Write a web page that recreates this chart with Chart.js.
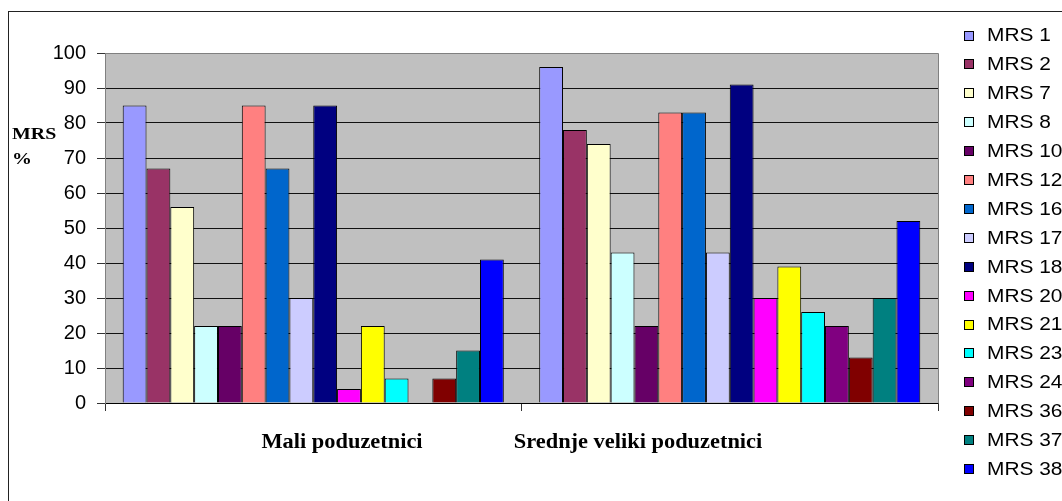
<!DOCTYPE html>
<html>
<head>
<meta charset="utf-8">
<script src="https://cdn.jsdelivr.net/npm/chart.js@4"></script>
<style>
  html, body { margin: 0; padding: 0; background: #fff; overflow: hidden; }
</style>
</head>
<body>
<canvas id="mrs-chart" width="1062" height="501"></canvas>
<script>
const categories = ['Mali poduzetnici', 'Srednje veliki poduzetnici'];
const seriesNames = ['MRS 1', 'MRS 2', 'MRS 7', 'MRS 8', 'MRS 10', 'MRS 12', 'MRS 16', 'MRS 17',
  'MRS 18', 'MRS 20', 'MRS 21', 'MRS 23', 'MRS 24', 'MRS 36', 'MRS 37', 'MRS 38'];
// [Mali, Srednje veliki]
const mrs1 = [85, 96];
const mrs2 = [67, 78];
const mrs7 = [56, 74];
const mrs8 = [22, 43];
const mrs10 = [22, 22];
const mrs12 = [85, 83];
const mrs16 = [67, 83];
const mrs17 = [30, 43];
const mrs18 = [85, 91];
const mrs20 = [4, 30];
const mrs21 = [22, 39];
const mrs23 = [7, 26];
const mrs24 = [0, 22];
const mrs36 = [7, 13];
const mrs37 = [15, 30];
const mrs38 = [41, 52];
const yTicks = [0, 10, 20, 30, 40, 50, 60, 70, 80, 90, 100];

const seriesValues = [mrs1, mrs2, mrs7, mrs8, mrs10, mrs12, mrs16, mrs17,
  mrs18, mrs20, mrs21, mrs23, mrs24, mrs36, mrs37, mrs38];
const colors = ['#9999FF', '#993366', '#FFFFCC', '#CCFFFF', '#660066', '#FF8080', '#0066CC', '#CCCCFF',
  '#000080', '#FF00FF', '#FFFF00', '#00FFFF', '#800080', '#800000', '#008080', '#0000FF'];

const datasets = seriesNames.map((name, i) => ({
  label: name,
  data: seriesValues[i],
  backgroundColor: colors[i],
  borderColor: '#000',
  borderWidth: 1,
  categoryPercentage: 0.915,
  barPercentage: 1,
}));

// text in the original is a bit wider than the font, so stretch it sideways
function wideText(ctx, text, x, y, sx) {
  ctx.save();
  ctx.translate(x, y);
  ctx.scale(sx, 1);
  ctx.fillText(text, 0, 0);
  ctx.restore();
}

// grey plot area, frame, legend and axis captions
const decorations = {
  id: 'decorations',
  beforeDraw(chart) {
    const { ctx, chartArea: a } = chart;
    ctx.save();
    ctx.fillStyle = '#C0C0C0';
    ctx.fillRect(a.left, a.top, a.right - a.left, a.bottom - a.top);
    ctx.strokeStyle = '#222';
    ctx.lineWidth = 1;
    ctx.strokeRect(8.5, 11.5, 1200, 700);
    ctx.restore();
  },
  beforeDatasetsDraw(chart) {
    const { ctx, chartArea: a } = chart;
    ctx.save();
    ctx.strokeStyle = '#808080';
    ctx.lineWidth = 1;
    ctx.beginPath();
    ctx.moveTo(Math.round(a.left) + 0.5, Math.round(a.top) + 0.5);
    ctx.lineTo(Math.round(a.right) + 0.5, Math.round(a.top) + 0.5);
    ctx.lineTo(Math.round(a.right) + 0.5, Math.round(a.bottom) + 0.5);
    ctx.stroke();
    ctx.restore();
  },
  afterDraw(chart) {
    const { ctx } = chart;
    ctx.save();
    // legend
    ctx.font = '18px "Liberation Sans", Arial, sans-serif';
    ctx.textBaseline = 'middle';
    chart.data.datasets.forEach((ds, i) => {
      const y = 35.5 + i * 28.9;
      ctx.fillStyle = ds.backgroundColor;
      ctx.fillRect(964, Math.round(y - 5), 10, 10);
      ctx.strokeStyle = '#000';
      ctx.strokeRect(964.5, Math.round(y - 5) + 0.5, 9, 9);
      ctx.fillStyle = '#000';
      wideText(ctx, ds.label, 987, y + 1, 1.16);
    });
    // y axis caption
    ctx.font = 'bold 17px "Liberation Serif", "Times New Roman", serif';
    ctx.textBaseline = 'alphabetic';
    ctx.textAlign = 'left';
    wideText(ctx, 'MRS', 12, 139, 1.17);
    wideText(ctx, '%', 12, 164, 1.17);
    // category labels
    ctx.font = 'bold 20px "Liberation Serif", "Times New Roman", serif';
    ctx.textAlign = 'center';
    wideText(ctx, categories[0], 342, 448, 1.12);
    wideText(ctx, categories[1], 638, 448, 1.12);
    ctx.restore();
  },
};

new Chart(document.getElementById('mrs-chart'), {
  type: 'bar',
  data: { labels: categories, datasets },
  plugins: [decorations],
  options: {
    responsive: false,
    animation: false,
    layout: { padding: { left: 0, top: 53, right: 124, bottom: 0 } },
    plugins: { legend: { display: false }, tooltip: { enabled: false } },
    scales: {
      x: {
        grid: { offset: true, drawOnChartArea: false, color: '#333', tickLength: 8 },
        border: { color: '#000' },
        ticks: { display: false },
        afterFit: (s) => { s.height = 98; },
      },
      y: {
        min: 0,
        max: 100,
        afterBuildTicks: (s) => { s.ticks = yTicks.map((v) => ({ value: v })); },
        ticks: {
          color: '#000',
          padding: 11,
          font: { family: '"Liberation Sans", Arial, sans-serif', size: 20 },
        },
        grid: {
          color: (c) => (c.tick && c.tick.value === 100 ? '#808080' : '#111'),
          tickColor: '#333',
          tickLength: 8,
        },
        border: { color: '#808080' },
        afterFit: (s) => { s.width = 105; },
      },
    },
  },
});
</script>
</body>
</html>
